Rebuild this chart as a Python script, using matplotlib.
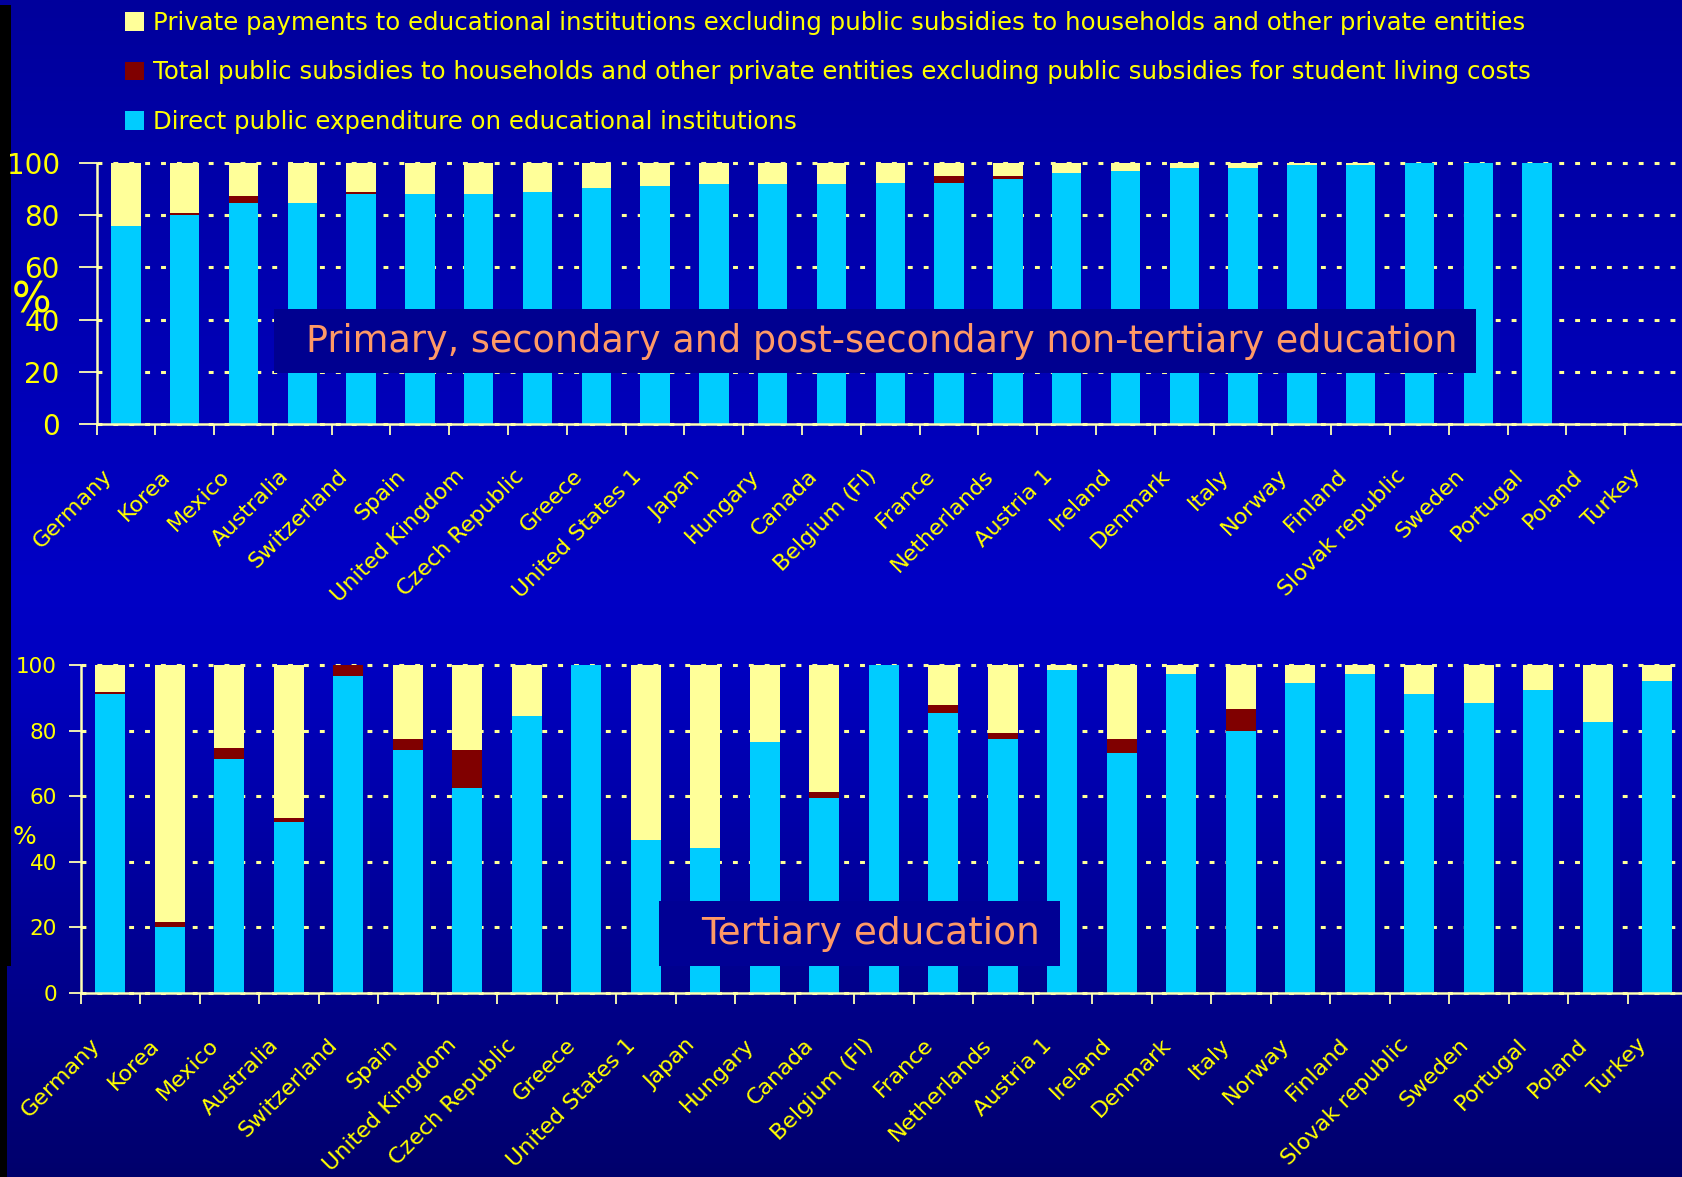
import numpy as np
import matplotlib
matplotlib.use('Agg')
from matplotlib import pyplot as plt
from matplotlib.patches import Rectangle
from matplotlib.colors import LinearSegmentedColormap

nan = np.nan

countries = ['Germany', 'Korea', 'Mexico', 'Australia', 'Switzerland', 'Spain',
             'United Kingdom', 'Czech Republic', 'Greece', 'United States 1', 'Japan',
             'Hungary', 'Canada', 'Belgium (Fl)', 'France', 'Netherlands', 'Austria 1',
             'Ireland', 'Denmark', 'Italy', 'Norway', 'Finland', 'Slovak republic',
             'Sweden', 'Portugal', 'Poland', 'Turkey']

legend_labels = [
    'Private payments to educational institutions excluding public subsidies to households and other private entities',
    'Total public subsidies to households and other private entities excluding public subsidies for student living costs',
    'Direct public expenditure on educational institutions',
]

# primary, secondary and post-secondary non-tertiary (%)
school_direct = [76, 80, 84.5, 84.5, 88, 88, 88, 89, 90.5, 91.3, 91.8, 91.8, 91.8, 92.5,
                 92.5, 94, 96, 96.8, 98.2, 98.2, 99.2, 99.2, 100, 100, 100, nan, nan]
school_subsidy = [0, 0.8, 2.7, 0, 0.8, 0, 0, 0, 0, 0, 0, 0, 0, 0,
                  2.7, 1.1, 0, 0, 0, 0, 0, 0, 0, 0, 0, nan, nan]
school_private = [24, 19.2, 12.8, 15.5, 11.2, 12, 12, 11, 9.5, 8.7, 8.2, 8.2, 8.2, 7.5,
                  4.8, 4.9, 4, 3.2, 1.8, 1.8, 0.8, 0.8, 0, 0, 0, nan, nan]

# tertiary (%)
tert_direct = [91.2, 20.2, 71.4, 52.2, 96.6, 74.1, 62.5, 84.5, 100, 46.7, 44.3, 76.5, 59.5, 100,
               85.4, 77.5, 98.5, 73.2, 97.3, 79.9, 94.5, 97.3, 91.1, 88.4, 92.4, 82.6, 95.2]
tert_subsidy = [0.6, 1.5, 3.3, 1.2, 3.4, 3.3, 11.6, 0, 0, 0, 0, 0, 1.8, 0,
                2.4, 1.8, 0, 4.3, 0, 6.7, 0, 0, 0, 0, 0, 0, 0]
tert_private = [8.2, 78.3, 25.3, 46.6, 0, 22.6, 25.9, 15.5, 0, 53.3, 55.7, 23.5, 38.7, 0,
                12.2, 20.7, 1.5, 22.5, 2.7, 13.4, 5.5, 2.7, 8.9, 11.6, 7.6, 17.4, 4.8]

C_DIRECT = '#00CCFF'
C_SUBSIDY = '#800000'
C_PRIVATE = '#FFFF99'
YELLOW = '#FFFF00'
AXCOL = '#FFFFB3'

W, H = 1682, 1177


def fx(px):
    return px / W


def fy(py):
    return 1 - py / H


fig = plt.figure(figsize=(W / 100, H / 100), dpi=100)

# background gradient
bg = fig.add_axes([0, 0, 1, 1], zorder=-10)
cmap = LinearSegmentedColormap.from_list(
    'bg', [(0, '#00009C'), (0.5, '#0000C6'), (0.56, '#0000C2'), (1.0, '#00006C')])
bg.imshow(np.linspace(0, 1, 512).reshape(-1, 1), aspect='auto', cmap=cmap,
          extent=[0, 1, 0, 1])
bg.axis('off')
fig.add_artist(Rectangle((0, fy(966)), fx(11), (966 - 5) / H, transform=fig.transFigure,
                         facecolor='black', edgecolor='none', zorder=-5))
fig.add_artist(Rectangle((0, 0), fx(7), (H - 966) / H, transform=fig.transFigure,
                         facecolor='black', edgecolor='none', zorder=-5))


def draw_panel(ax, direct, subsidy, private, ysize, ypad, ylen, label_shift):
    x = np.arange(len(countries))
    d = np.array(direct, dtype=float)
    s = np.array(subsidy, dtype=float)
    p = np.array(private, dtype=float)
    b1 = ax.bar(x, d, 0.5, color=C_DIRECT, linewidth=0)
    b2 = ax.bar(x, s, 0.5, bottom=d, color=C_SUBSIDY, linewidth=0)
    b3 = ax.bar(x, p, 0.5, bottom=d + s, color=C_PRIVATE, linewidth=0)

    ax.set_facecolor('none')
    ax.set_xlim(-0.5, len(countries) - 0.5)
    ax.set_ylim(0, 100)
    ax.set_yticks(np.arange(0, 101, 20))
    ax.set_axisbelow(True)
    ax.yaxis.grid(True, color=C_PRIVATE, linewidth=2.2, linestyle=(0, (1.6, 3.6)))
    for gl in ax.get_ygridlines():
        gl.set_clip_on(False)

    for side in ['top', 'right']:
        ax.spines[side].set_visible(False)
    for side in ['left', 'bottom']:
        ax.spines[side].set_color(AXCOL)
        ax.spines[side].set_linewidth(1.8)

    # ticks on category boundaries, labels (slightly left of centre) as minor ticks
    ax.set_xticks(np.arange(-0.5, len(countries), 1))
    ax.set_xticks(x + label_shift, minor=True)
    ax.set_xticklabels(countries, minor=True, rotation=45, ha='right',
                       rotation_mode='anchor', fontsize=16, color=YELLOW)
    ax.tick_params(axis='x', which='major', length=8, width=1.3, color=AXCOL,
                   labelbottom=False)
    ax.tick_params(axis='x', which='minor', length=0, pad=30)
    ax.tick_params(axis='y', length=ylen, width=1.3, color=AXCOL,
                   labelsize=ysize, labelcolor=YELLOW, pad=ypad)
    return b1, b2, b3


ax1 = fig.add_axes([fx(96.5), fy(424), (1684 - 96.5) / W, (424 - 163) / H])
bars = draw_panel(ax1, school_direct, school_subsidy, school_private, 20, 13.5, 13, -0.41)
ax1.set_ylabel('%', rotation=0, fontsize=30, color=YELLOW, ha='center', va='center')
ax1.yaxis.set_label_coords(-0.041, 0.475)

ax2 = fig.add_axes([fx(80.5), fy(993), (1687 - 80.5) / W, (993 - 665) / H])
draw_panel(ax2, tert_direct, tert_subsidy, tert_private, 15.5, 8, 9, -0.35)
ax2.set_ylabel('%', rotation=0, fontsize=18, color=YELLOW, ha='center', va='center')
ax2.yaxis.set_label_coords(-0.0346, 0.476)

# legend
fig.legend([bars[2], bars[1], bars[0]], legend_labels, loc='upper left',
           bbox_to_anchor=(fx(125), fy(11)), frameon=False, fontsize=17.6,
           labelcolor=YELLOW, handlelength=0.76, handleheight=0.78,
           handletextpad=0.39, labelspacing=1.04, borderpad=0, borderaxespad=0)

# panel titles
fig.add_artist(Rectangle((fx(274), fy(373)), (1476 - 274) / W, (373 - 309) / H,
                         transform=fig.transFigure, facecolor='#000090',
                         edgecolor='none', zorder=5))
fig.text(fx(882), fy(342), 'Primary, secondary and post-secondary non-tertiary education',
         ha='center', va='center', color='#FF9966', fontsize=26.3, zorder=6)
fig.add_artist(Rectangle((fx(659), fy(966)), (1060 - 659) / W, (966 - 901) / H,
                         transform=fig.transFigure, facecolor='#000094',
                         edgecolor='none', zorder=5))
fig.text(fx(870), fy(934), 'Tertiary education',
         ha='center', va='center', color='#FF9966', fontsize=27, zorder=6)

fig.savefig('out.png', dpi=100)
